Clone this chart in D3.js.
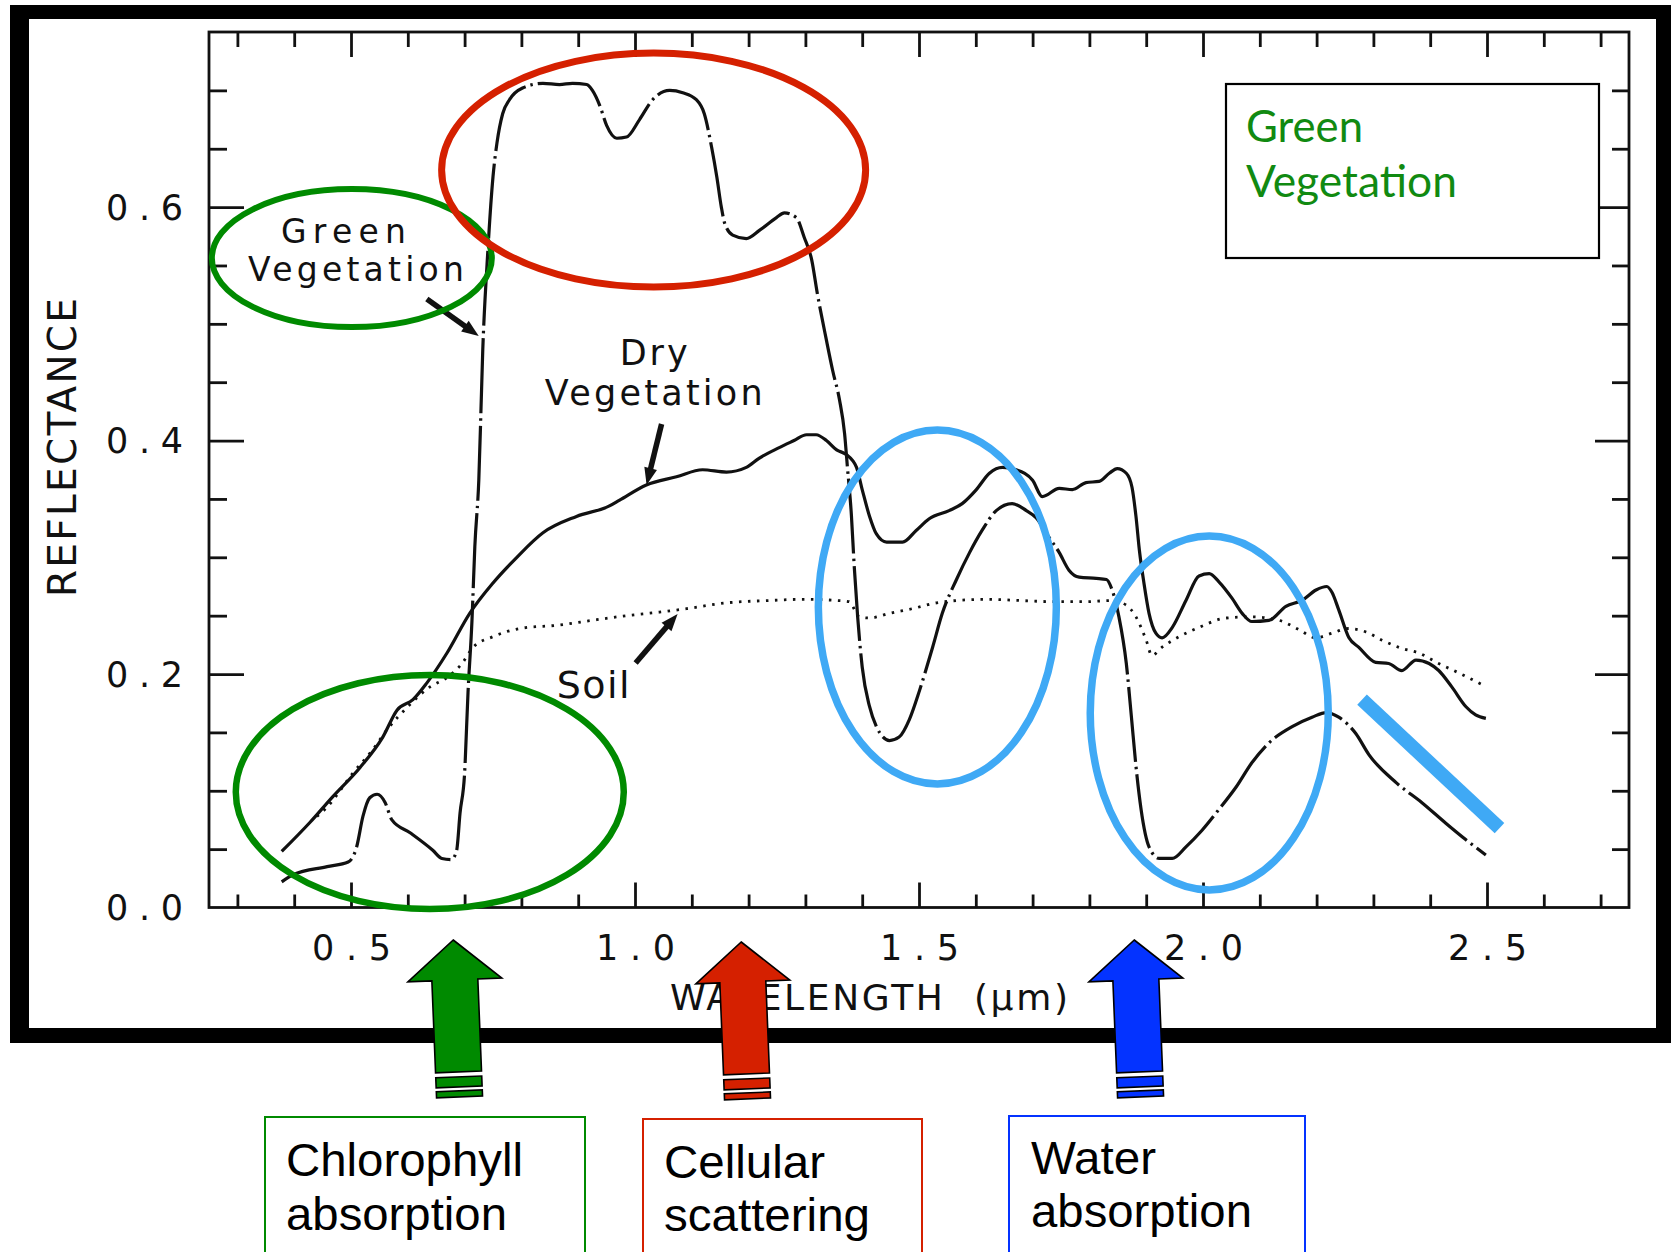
<!DOCTYPE html>
<html>
<head>
<meta charset="utf-8">
<script src="https://cdn.jsdelivr.net/npm/d3@7"></script>
<style>
  html, body { margin: 0; padding: 0; background: #fff; }
  svg { display: block; }
</style>
</head>
<body>
<svg id="chart" width="1673" height="1252"></svg>
<script>
// Spectral reflectance curves: [wavelength (µm), reflectance]
const greenVegetation = [
  [0.378,0.022],[0.398,0.028],[0.458,0.035],[0.495,0.039],[0.510,0.052],[0.521,0.078],
  [0.533,0.094],[0.546,0.097],[0.560,0.090],[0.572,0.075],[0.604,0.064],[0.644,0.049],
  [0.660,0.042],[0.677,0.041],[0.686,0.049],[0.692,0.081],[0.700,0.115],[0.706,0.184],
  [0.713,0.246],[0.718,0.309],[0.725,0.366],[0.732,0.478],[0.741,0.563],[0.750,0.626],
  [0.757,0.655],[0.767,0.680],[0.779,0.692],[0.802,0.702],[0.838,0.706],[0.867,0.705],
  [0.890,0.706],[0.915,0.705],[0.925,0.700],[0.938,0.687],[0.950,0.670],[0.968,0.659],
  [0.985,0.660],[1.008,0.675],[1.031,0.692],[1.061,0.700],[1.084,0.698],[1.108,0.692],
  [1.122,0.680],[1.135,0.651],[1.144,0.626],[1.152,0.600],[1.158,0.586],[1.172,0.576],
  [1.196,0.573],[1.219,0.580],[1.249,0.591],[1.263,0.595],[1.284,0.591],[1.298,0.574],
  [1.311,0.555],[1.321,0.526],[1.337,0.486],[1.348,0.460],[1.360,0.435],[1.369,0.406],
  [1.374,0.377],[1.381,0.336],[1.386,0.292],[1.392,0.249],[1.400,0.206],[1.413,0.172],
  [1.425,0.155],[1.448,0.143],[1.465,0.146],[1.483,0.161],[1.501,0.186],[1.524,0.223],
  [1.541,0.252],[1.566,0.281],[1.589,0.304],[1.611,0.323],[1.636,0.340],[1.664,0.346],
  [1.689,0.340],[1.706,0.334],[1.729,0.317],[1.747,0.304],[1.764,0.289],[1.782,0.283],
  [1.812,0.282],[1.830,0.281],[1.840,0.272],[1.852,0.249],[1.865,0.209],[1.874,0.163],
  [1.882,0.121],[1.891,0.084],[1.905,0.052],[1.923,0.042],[1.946,0.042],[1.970,0.052],
  [1.998,0.066],[2.028,0.084],[2.058,0.103],[2.086,0.124],[2.116,0.141],[2.157,0.155],
  [2.192,0.163],[2.217,0.167],[2.239,0.163],[2.269,0.149],[2.292,0.131],[2.340,0.107],
  [2.385,0.090],[2.428,0.072],[2.463,0.058],[2.498,0.045]
];

const dryVegetation = [
  [0.378,0.048],[0.428,0.073],[0.468,0.095],[0.516,0.120],[0.556,0.146],[0.581,0.169],
  [0.609,0.178],[0.633,0.192],[0.669,0.218],[0.709,0.252],[0.750,0.278],[0.792,0.300],
  [0.838,0.321],[0.897,0.335],[0.955,0.344],[0.973,0.349],[1.020,0.362],[1.073,0.369],
  [1.119,0.375],[1.161,0.373],[1.196,0.377],[1.219,0.385],[1.254,0.394],[1.280,0.400],
  [1.302,0.405],[1.319,0.405],[1.337,0.400],[1.355,0.392],[1.372,0.388],[1.390,0.377],
  [1.400,0.358],[1.413,0.335],[1.425,0.320],[1.443,0.313],[1.471,0.313],[1.495,0.323],
  [1.518,0.333],[1.553,0.340],[1.576,0.346],[1.601,0.358],[1.624,0.372],[1.647,0.377],
  [1.671,0.375],[1.700,0.366],[1.717,0.352],[1.747,0.359],[1.770,0.358],[1.794,0.364],
  [1.817,0.365],[1.835,0.372],[1.849,0.376],[1.865,0.372],[1.875,0.360],[1.882,0.335],
  [1.888,0.306],[1.896,0.278],[1.905,0.252],[1.917,0.235],[1.928,0.231],[1.946,0.240],
  [1.970,0.263],[1.993,0.284],[2.011,0.286],[2.028,0.279],[2.051,0.265],[2.069,0.252],
  [2.086,0.245],[2.116,0.246],[2.146,0.258],[2.174,0.263],[2.199,0.272],[2.218,0.275],
  [2.227,0.270],[2.239,0.255],[2.257,0.231],[2.274,0.223],[2.304,0.210],[2.327,0.209],
  [2.350,0.203],[2.375,0.212],[2.398,0.209],[2.415,0.203],[2.438,0.189],[2.463,0.172],
  [2.480,0.165],[2.498,0.162]
];

const soil = [
  [0.440,0.078],[0.458,0.086],[0.503,0.115],[0.538,0.135],[0.563,0.152],[0.600,0.172],
  [0.639,0.189],[0.669,0.197],[0.697,0.210],[0.715,0.223],[0.750,0.232],[0.797,0.239],
  [0.867,0.242],[0.925,0.246],[0.985,0.250],[1.043,0.253],[1.091,0.256],[1.161,0.261],
  [1.237,0.263],[1.295,0.264],[1.355,0.263],[1.377,0.262],[1.395,0.249],[1.413,0.248],
  [1.448,0.252],[1.488,0.256],[1.531,0.261],[1.566,0.263],[1.619,0.264],[1.677,0.263],
  [1.735,0.262],[1.794,0.262],[1.840,0.263],[1.865,0.259],[1.882,0.249],[1.900,0.229],
  [1.910,0.216],[1.928,0.223],[1.958,0.232],[1.993,0.240],[2.041,0.248],[2.086,0.249],
  [2.134,0.246],[2.169,0.238],[2.199,0.231],[2.227,0.235],[2.257,0.239],[2.287,0.236],
  [2.315,0.229],[2.350,0.222],[2.380,0.218],[2.415,0.209],[2.450,0.201],[2.491,0.191]
];

// Axis ticks
const xMinorTicks = d3.range(3, 28).map(i => i / 10).filter(v => Math.round(v * 10) % 5 !== 0);
const xMajorTicks = [0.5, 1.0, 1.5, 2.0, 2.5];
const yMinorTicks = [0.05, 0.1, 0.15, 0.25, 0.3, 0.35, 0.45, 0.5, 0.55, 0.65, 0.7];
const yMajorTicks = [0.2, 0.4, 0.6];
const yLabelTicks = [0.0, 0.2, 0.4, 0.6];

// Absorption features marked under the axis
const featureNames = [["Chlorophyll", "absorption"], ["Cellular", "scattering"], ["Water", "absorption"]];
const featureWavelengths = [0.68, 1.187, 1.879];

// ---------------------------------------------------------------
const svg = d3.select("#chart");
const ink = "#111";
const plotFont = "'DejaVu Sans', sans-serif";
const green = "#008a00", red = "#d52000", blue = "#0433ff", sky = "#3fa9f5";

const x = d3.scaleLinear().domain([0.25, 2.75]).range([209, 1629]);
const y = d3.scaleLinear().domain([0, 0.75]).range([907.5, 32]);

// Outer heavy frame
const frame = svg.append("g").attr("fill", "#000");
frame.append("rect").attr("x", 10).attr("y", 5).attr("width", 1661).attr("height", 14);
frame.append("rect").attr("x", 10).attr("y", 1028).attr("width", 1661).attr("height", 15);
frame.append("rect").attr("x", 10).attr("y", 5).attr("width", 19).attr("height", 1038);
frame.append("rect").attr("x", 1656).attr("y", 5).attr("width", 15).attr("height", 1038);

// Plot box
svg.append("rect")
  .attr("x", x(0.25)).attr("y", y(0.75))
  .attr("width", x(2.75) - x(0.25)).attr("height", y(0) - y(0.75))
  .attr("fill", "none").attr("stroke", ink).attr("stroke-width", 2.8);

function tickGroup(axis, transform) {
  const g = svg.append("g").attr("transform", transform).call(axis);
  g.select(".domain").remove();
  g.selectAll(".tick line").attr("stroke", ink).attr("stroke-width", 2.8);
  return g;
}

// Inward-pointing ticks on all four sides
tickGroup(d3.axisBottom(x).tickValues(xMinorTicks).tickSize(-13).tickFormat(""), `translate(0,${y(0)})`);
tickGroup(d3.axisBottom(x).tickValues(xMajorTicks).tickSize(-25).tickFormat(""), `translate(0,${y(0)})`);
tickGroup(d3.axisTop(x).tickValues(xMinorTicks).tickSize(-15).tickFormat(""), `translate(0,${y(0.75)})`);
tickGroup(d3.axisTop(x).tickValues(xMajorTicks).tickSize(-25).tickFormat(""), `translate(0,${y(0.75)})`);
tickGroup(d3.axisLeft(y).tickValues(yMinorTicks).tickSize(-18).tickFormat(""), `translate(${x(0.25)},0)`);
tickGroup(d3.axisLeft(y).tickValues(yMajorTicks).tickSize(-35).tickFormat(""), `translate(${x(0.25)},0)`);
tickGroup(d3.axisRight(y).tickValues(yMinorTicks).tickSize(-17).tickFormat(""), `translate(${x(2.75)},0)`);
tickGroup(d3.axisRight(y).tickValues(yMajorTicks).tickSize(-34).tickFormat(""), `translate(${x(2.75)},0)`);

// Tick labels
const xLab = svg.append("g").attr("transform", `translate(0,${y(0)})`)
  .call(d3.axisBottom(x).tickValues(xMajorTicks).tickSize(0).tickFormat(d3.format(".1f")));
xLab.select(".domain").remove();
xLab.selectAll("text")
  .attr("y", 52.5).attr("dy", 0)
  .attr("font-family", plotFont).attr("font-size", 35).attr("fill", ink)
  .attr("textLength", 79).attr("lengthAdjust", "spacing");

const yLab = svg.append("g").attr("transform", `translate(${x(0.25)},0)`)
  .call(d3.axisLeft(y).tickValues(yLabelTicks).tickSize(0).tickFormat(d3.format(".1f")));
yLab.select(".domain").remove();
yLab.selectAll("text")
  .attr("x", -103).attr("dy", 12).attr("text-anchor", "start")
  .attr("font-family", plotFont).attr("font-size", 35).attr("fill", ink)
  .attr("textLength", 77).attr("lengthAdjust", "spacing");

// Axis titles
svg.append("text")
  .attr("x", 670).attr("y", 1010)
  .attr("font-family", plotFont).attr("font-size", 36).attr("fill", ink)
  .style("white-space", "pre")
  .attr("textLength", 398).attr("lengthAdjust", "spacing")
  .text("WAVELENGTH  (\u00b5m)");

svg.append("text")
  .attr("transform", "translate(76,597) rotate(-90)")
  .attr("font-family", plotFont).attr("font-size", 39).attr("fill", ink)
  .attr("textLength", 299).attr("lengthAdjust", "spacing")
  .text("REFLECTANCE");

// Spectral curves
const line = d3.line().x(d => x(d[0])).y(d => y(d[1])).curve(d3.curveMonotoneX);
const curves = svg.append("g").attr("fill", "none").attr("stroke", ink)
  .attr("stroke-linejoin", "round");
curves.append("path").datum(soil).attr("d", line)
  .attr("stroke-width", 2.8).attr("stroke-dasharray", "2.5,6.5");
curves.append("path").datum(dryVegetation).attr("d", line)
  .attr("stroke-width", 3.2);
curves.append("path").datum(greenVegetation).attr("d", line)
  .attr("stroke-width", 3.2).attr("stroke-dasharray", "75,5,2.5,5");

// Curve labels (one text block per label, one line per tspan)
const curveLabels = [
  { lines: [
      { text: "Green",      at: [0.3767, 0.5692], width: 125 },
      { text: "Vegetation", at: [0.3186, 0.5367], width: 216 } ], size: 33 },
  { lines: [
      { text: "Dry",        at: [0.9730, 0.4647], width: 68 },
      { text: "Vegetation", at: [0.8410, 0.4305], width: 218 } ], size: 35 },
  { lines: [
      { text: "Soil",       at: [0.8621, 0.1795], width: 73 } ], size: 38 }
];
const labelText = svg.append("g").selectAll("text").data(curveLabels).join("text")
  .attr("font-family", plotFont).attr("font-size", d => d.size).attr("fill", ink);
labelText.selectAll("tspan").data(d => d.lines).join("tspan")
  .attr("x", d => x(d.at[0])).attr("y", d => y(d.at[1]))
  .attr("textLength", d => d.width).attr("lengthAdjust", "spacing")
  .text(d => d.text);

// Pointers from labels to curves
const pointers = [
  { from: [0.6335, 0.5213], to: [0.7249, 0.4896] },
  { from: [1.0468, 0.4142], to: [1.0204, 0.3620] },
  { from: [1.0011, 0.2095], to: [1.0750, 0.2514] }
];
const pg = svg.append("g");
pointers.forEach(p => {
  const x0 = x(p.from[0]), y0 = y(p.from[1]), x1 = x(p.to[0]), y1 = y(p.to[1]);
  const len = Math.hypot(x1 - x0, y1 - y0);
  const ux = (x1 - x0) / len, uy = (y1 - y0) / len;
  const hl = 17, hw = 6.5;
  const bx = x1 - ux * hl, by = y1 - uy * hl;
  pg.append("line").attr("x1", x0).attr("y1", y0).attr("x2", bx + ux * 2).attr("y2", by + uy * 2)
    .attr("stroke", ink).attr("stroke-width", 5.5);
  pg.append("polygon")
    .attr("points", [[x1, y1], [bx - uy * hw, by + ux * hw], [bx + uy * hw, by - ux * hw]].map(q => q.join(",")).join(" "))
    .attr("fill", ink);
});

// Highlight ellipses
const rings = [
  { c: [0.5015, 0.5563], rx: 140, ry: 69,  color: green, w: 6 },
  { c: [1.0328, 0.6317], rx: 212, ry: 117, color: red,   w: 7 },
  { c: [0.6387, 0.0989], rx: 194, ry: 117, color: green, w: 6.5 },
  { c: [1.5323, 0.2574], rx: 119, ry: 177, color: sky,   w: 7.5 },
  { c: [2.0110, 0.1666], rx: 119, ry: 177, color: sky,   w: 7.5 }
];
svg.append("g").attr("fill", "none").selectAll("ellipse").data(rings).join("ellipse")
  .attr("cx", d => x(d.c[0])).attr("cy", d => y(d.c[1]))
  .attr("rx", d => d.rx).attr("ry", d => d.ry)
  .attr("stroke", d => d.color).attr("stroke-width", d => d.w);

// Slope marker alongside the falling SWIR shoulder
const slope = [[2.280, 0.178], [2.522, 0.068]];
svg.append("line")
  .attr("x1", x(slope[0][0])).attr("y1", y(slope[0][1]))
  .attr("x2", x(slope[1][0])).attr("y2", y(slope[1][1]))
  .attr("stroke", sky).attr("stroke-width", 14);

// Legend box
const legend = svg.append("g");
legend.append("rect").attr("x", 1226).attr("y", 84).attr("width", 373).attr("height", 174)
  .attr("fill", "#fff").attr("stroke", "#000").attr("stroke-width", 2.2);
const legendText = legend.append("text")
  .attr("font-family", "Lato, 'Open Sans', sans-serif").attr("font-size", 44).attr("fill", "#118a11");
legendText.append("tspan").attr("x", 1246).attr("y", 142)
  .attr("textLength", 117).attr("lengthAdjust", "spacingAndGlyphs").text("Green");
legendText.append("tspan").attr("x", 1246).attr("y", 197)
  .attr("textLength", 211).attr("lengthAdjust", "spacingAndGlyphs").text("Vegetation");

// Feature arrows below the axis
const arrowFills = [green, red, blue];
const arrowShape = [[0,0],[47,40],[23,40],[23,132],[-23,132],[-23,40],[-47,40]];
featureWavelengths.forEach((w, i) => {
  const g = svg.append("g")
    .attr("transform", `translate(${x(w)},${i === 1 ? 942 : 940}) rotate(-2.3)`)
    .attr("fill", arrowFills[i]).attr("stroke", "#000").attr("stroke-width", 1.6)
    .attr("stroke-linejoin", "miter");
  g.append("polygon").attr("points", arrowShape.map(p => p.join(",")).join(" "));
  g.append("rect").attr("x", -23).attr("y", 137).attr("width", 46).attr("height", 10);
  g.append("rect").attr("x", -23).attr("y", 151).attr("width", 46).attr("height", 6);
});

// Feature boxes
const boxes = [
  { x: 265, y: 1117, w: 320, color: green, tx: 286, lines: [1176, 1230], widths: [237, 221] },
  { x: 643, y: 1119, w: 279, color: red,   tx: 664, lines: [1178, 1231], widths: [161, 206] },
  { x: 1009, y: 1116, w: 296, color: blue, tx: 1031, lines: [1174, 1227], widths: [125, 221] }
];
boxes.forEach((b, i) => {
  svg.append("rect").attr("x", b.x).attr("y", b.y).attr("width", b.w).attr("height", 200)
    .attr("fill", "#fff").attr("stroke", b.color).attr("stroke-width", 2);
  const t = svg.append("text")
    .attr("font-family", "'Liberation Sans', Arial, sans-serif").attr("font-size", 46)
    .attr("fill", "#000");
  featureNames[i].forEach((s, k) => {
    t.append("tspan").attr("x", b.tx).attr("y", b.lines[k])
      .attr("textLength", b.widths[k]).attr("lengthAdjust", "spacingAndGlyphs")
      .text(s);
  });
});
</script>
</body>
</html>
